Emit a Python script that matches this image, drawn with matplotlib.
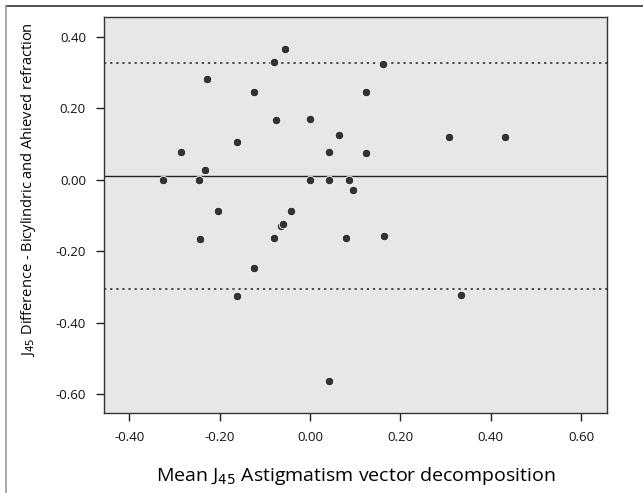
import matplotlib
matplotlib.use("Agg")
import matplotlib.pyplot as plt
from matplotlib.lines import Line2D

plt.rcParams['font.family'] = ['Open Sans', 'DejaVu Sans']

# mean of the two methods (x) and difference (y)
mean_j45 = [-0.055, -0.080, -0.228, -0.123, 0.123, -0.076, 0.000, 0.064, -0.162, -0.285,
            0.041, 0.123, -0.232, -0.325, -0.246, 0.000, 0.043, 0.086, 0.095, -0.204,
            -0.043, 0.162, 0.308, 0.431, -0.243, -0.065, -0.060, -0.080, 0.080, -0.123,
            -0.162, 0.041, 0.164, 0.333]
diff_j45 = [0.367, 0.330, 0.283, 0.245, 0.245, 0.169, 0.170, 0.127, 0.107, 0.077,
            0.079, 0.075, 0.028, 0.000, 0.000, 0.000, 0.000, 0.000, -0.029, -0.086,
            -0.086, 0.324, 0.121, 0.121, -0.165, -0.128, -0.122, -0.161, -0.161, -0.247,
            -0.325, -0.563, -0.156, -0.323]

mean_diff = 0.011
upper_loa = 0.326
lower_loa = -0.305

xticks = [-0.40, -0.20, 0.00, 0.20, 0.40, 0.60]
yticks = [0.40, 0.20, 0.00, -0.20, -0.40, -0.60]

fig = plt.figure(figsize=(6.43, 4.93), dpi=100)
ax = fig.add_axes([0.1617, 0.1623, 0.7823, 0.8032])
ax.set_facecolor('#e7e7e7')

ax.axhline(mean_diff, color='#222222', lw=1.0)
ax.axhline(upper_loa, color='#222222', lw=1.1, ls=(0, (1.5, 2.5)))
ax.axhline(lower_loa, color='#222222', lw=1.1, ls=(0, (1.5, 2.5)))

ax.scatter(mean_j45, diff_j45, s=38, color='#333333', edgecolors='white', linewidths=0.6, zorder=3)

ax.set_xlim(-0.456, 0.657)
ax.set_ylim(-0.652, 0.456)
ax.set_xticks(xticks)
ax.set_xticklabels([f"{v:.2f}" for v in xticks])
ax.set_yticks(yticks)
ax.set_yticklabels([f"{v:.2f}" for v in yticks])
ax.tick_params(labelsize=9.5, length=6, width=1, color='#222222', labelcolor='#111111', pad=7)
for s in ax.spines.values():
    s.set_color('#333333')
    s.set_linewidth(1.0)

ax.set_xlabel("Mean J$_{45}$ Astigmatism vector decomposition", fontsize=14, labelpad=15)
fig.text(0.044, 0.615, "J$_{45}$ Difference - Bicylindric and Ahieved refraction",
         rotation=90, fontsize=10.5, ha='center', va='center')

# ramecek kolem obrazku
fig.add_artist(Line2D([6 / 643, 1], [1 - 6 / 493, 1 - 6 / 493], color='#333333', lw=1.2))
fig.add_artist(Line2D([6 / 643, 6 / 643], [0, 1 - 6 / 493], color='#999999', lw=1.2))

fig.savefig("out.png", dpi=100)
